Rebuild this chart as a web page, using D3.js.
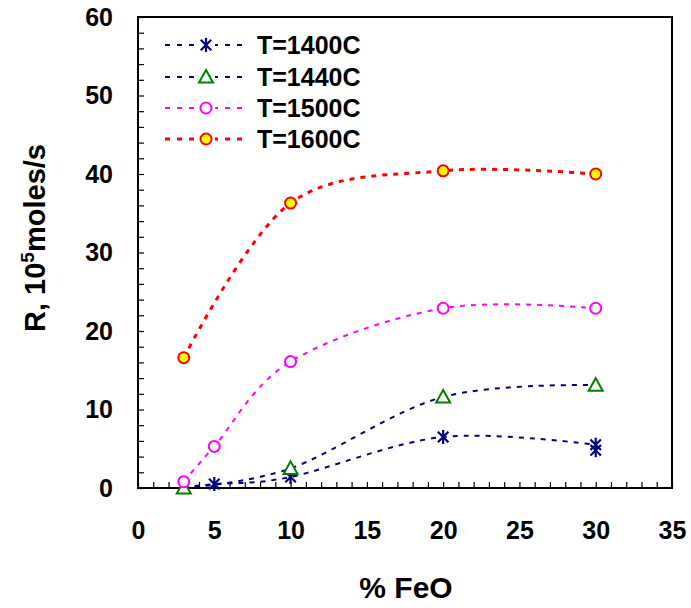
<!DOCTYPE html>
<html lang="en">
<head>
  <meta charset="UTF-8" />
  <title>R vs %FeO</title>
  <script src="https://d3js.org/d3.v7.min.js"></script>
  <style>
    body {
      margin: 0;
      background: #fff;
      font-family: "Liberation Sans", Arial, sans-serif;
    }
    svg {
      display: block;
    }
    .axis text {
      font-size: 25px;
      font-weight: bold;
      fill: #000;
    }
    .axis line {
      stroke: #000;
      stroke-width: 1.2;
    }
    .axis path {
      display: none;
    }
    text.title {
      font-weight: bold;
      fill: #000;
    }
    text.legend {
      font-size: 25px;
      font-weight: bold;
      fill: #000;
    }
  </style>
</head>
<body>

<svg width="691" height="608"></svg>

<script>
  // %FeO values per series
  const feo1400 = [3, 5, 10, 20, 30, 30];
  const feo1440 = [3, 10, 20, 30];
  const feo1500 = [3, 5, 10, 20, 30];
  const feo1600 = [3, 10, 20, 30];

  // R, 10^5 moles/s
  const r1400 = [0.1, 0.5, 1.4, 6.5, 5.5, 4.8];
  const r1440 = [0.0, 2.5, 11.6, 13.1];
  const r1500 = [0.8, 5.3, 16.1, 22.9, 22.9];
  const r1600 = [16.6, 36.3, 40.4, 40.0];

  const seriesNames = ["T=1400C", "T=1440C", "T=1500C", "T=1600C"];

  const xTickLabels = [0, 5, 10, 15, 20, 25, 30, 35];
  const yTickLabels = [0, 10, 20, 30, 40, 50, 60];

  const series = [
    { name: seriesNames[0], xs: feo1400, ys: r1400, line: "#000080", marker: "star",     stroke: "#000080", fill: "none", width: 2 },
    { name: seriesNames[1], xs: feo1440, ys: r1440, line: "#000080", marker: "triangle", stroke: "#008000", fill: "#fff", width: 2 },
    { name: seriesNames[2], xs: feo1500, ys: r1500, line: "#ff00ff", marker: "circle",   stroke: "#ff00ff", fill: "#fff", width: 2 },
    { name: seriesNames[3], xs: feo1600, ys: r1600, line: "#ff0000", marker: "circle",   stroke: "#ff0000", fill: "#ffff00", width: 3 }
  ];

  const svg = d3.select("svg");
  const plot = { left: 138, right: 672, top: 17, bottom: 488 };

  const x = d3.scaleLinear().domain([0, 35]).range([plot.left, plot.right]);
  const y = d3.scaleLinear().domain([0, 60]).range([plot.bottom, plot.top]);

  // x axis with minor ticks every 1, pointing inward
  const xAxis = svg.append("g")
    .attr("class", "axis")
    .attr("transform", `translate(0,${plot.bottom})`)
    .call(d3.axisBottom(x).tickValues(d3.range(0, 36)).tickSize(-6)
      .tickFormat(d => xTickLabels.includes(d) ? d : ""));
  xAxis.selectAll("text").attr("y", 33).attr("dy", "0.71em");

  // y axis, minor ticks every 2
  const yAxis = svg.append("g")
    .attr("class", "axis")
    .attr("transform", `translate(${plot.left},0)`)
    .call(d3.axisLeft(y).tickValues(d3.range(0, 61, 2)).tickSize(-6)
      .tickFormat(d => yTickLabels.includes(d) ? d : ""));
  yAxis.selectAll("text").attr("x", -25);

  // frame
  svg.append("rect")
    .attr("x", plot.left).attr("y", plot.top)
    .attr("width", plot.right - plot.left).attr("height", plot.bottom - plot.top)
    .attr("fill", "none").attr("stroke", "#000").attr("stroke-width", 2);

  // axis titles
  svg.append("text")
    .attr("class", "title")
    .attr("x", 406).attr("y", 598)
    .attr("text-anchor", "middle")
    .style("font-size", "30px")
    .text("% FeO");

  const yt = svg.append("text")
    .attr("class", "title")
    .attr("transform", "translate(45,238) rotate(-90)")
    .attr("text-anchor", "middle")
    .style("font-size", "29px");
  yt.append("tspan").text("R, 10");
  yt.append("tspan").attr("dy", -11).style("font-size", "19px").text("5");
  yt.append("tspan").attr("dy", 11).text("moles/s");

  const line = d3.line()
    .x(d => x(d[0]))
    .y(d => y(d[1]))
    .curve(d3.curveCardinal.tension(0));

  function drawMarker(g, s, cx, cy) {
    if (s.marker === "star") {
      const r = 7;
      const a = r * 0.75;
      g.append("path")
        .attr("d", `M${cx},${cy - r}V${cy + r}M${cx - a},${cy - a}L${cx + a},${cy + a}M${cx - a},${cy + a}L${cx + a},${cy - a}`)
        .attr("stroke", s.stroke).attr("stroke-width", 2.2).attr("fill", "none");
    } else if (s.marker === "triangle") {
      const r = 7;
      g.append("path")
        .attr("d", `M${cx},${cy - r}L${cx + r},${cy + r * 0.8}L${cx - r},${cy + r * 0.8}Z`)
        .attr("stroke", s.stroke).attr("stroke-width", 2).attr("fill", s.fill);
    } else {
      g.append("circle")
        .attr("cx", cx).attr("cy", cy).attr("r", 5.5)
        .attr("stroke", s.stroke).attr("stroke-width", 2).attr("fill", s.fill);
    }
  }

  series.forEach(s => {
    // smooth line through the first reading at each %FeO
    const pts = s.xs.map((v, i) => [v, s.ys[i]])
      .filter((p, i) => s.xs.indexOf(p[0]) === i);
    svg.append("path")
      .datum(pts)
      .attr("d", line)
      .attr("fill", "none")
      .attr("stroke", s.line)
      .attr("stroke-width", s.width)
      .attr("stroke-dasharray", "5,6");
  });

  series.forEach(s => {
    const g = svg.append("g");
    s.xs.forEach((v, i) => drawMarker(g, s, x(v), y(s.ys[i])));
  });

  // legend
  const legendY = [45, 77, 108, 139];
  series.forEach((s, i) => {
    const g = svg.append("g");
    const ly = legendY[i];
    g.append("line")
      .attr("x1", 165).attr("x2", 247)
      .attr("y1", ly).attr("y2", ly)
      .attr("stroke", s.line)
      .attr("stroke-width", s.width)
      .attr("stroke-dasharray", "5,7");
    g.append("rect").attr("x", 197).attr("y", ly - 9).attr("width", 18).attr("height", 18).attr("fill", "#fff");
    drawMarker(g, s, 206, ly);
    g.append("text")
      .attr("class", "legend")
      .attr("x", 257).attr("y", ly + 9)
      .text(s.name);
  });
</script>

</body>
</html>
